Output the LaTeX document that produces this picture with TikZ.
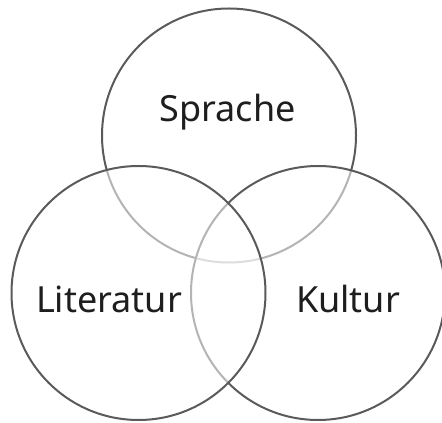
\documentclass[tikz,border=0pt]{standalone}
\usepackage{fontspec}
\setmainfont{Noto Sans}
\usetikzlibrary{positioning}
\definecolor{ring}{HTML}{5A5A5A}
\definecolor{ink}{HTML}{1E1E1E}
\tikzset{
  venn/.style={circle, draw=ring, line width=2pt, fill=white, fill opacity=0.55,
               minimum size=254pt, inner sep=0pt},
  lbl/.style={font=\fontsize{36}{42}\selectfont, text=ink, anchor=base, inner sep=0pt}
}
\begin{document}
\begin{tikzpicture}[x=1pt, y=1pt]
 \useasboundingbox (0,0) rectangle (442,423);
 % circles: top first, then right, left last
 \node[venn] (sprache) at (229,287.5) {};
 \node[venn] (kultur) at (318,130) {};
 \node[venn] (literatur) at (138.5,130) {};
 % labels
 \node[lbl] (tsprache) at (227.5,301) {Sprache};
 \node[lbl] (tliteratur) at (109,110) {Literatur};
 \node[lbl] (tkultur) at (348,110) {Kultur};
\end{tikzpicture}
\end{document}
